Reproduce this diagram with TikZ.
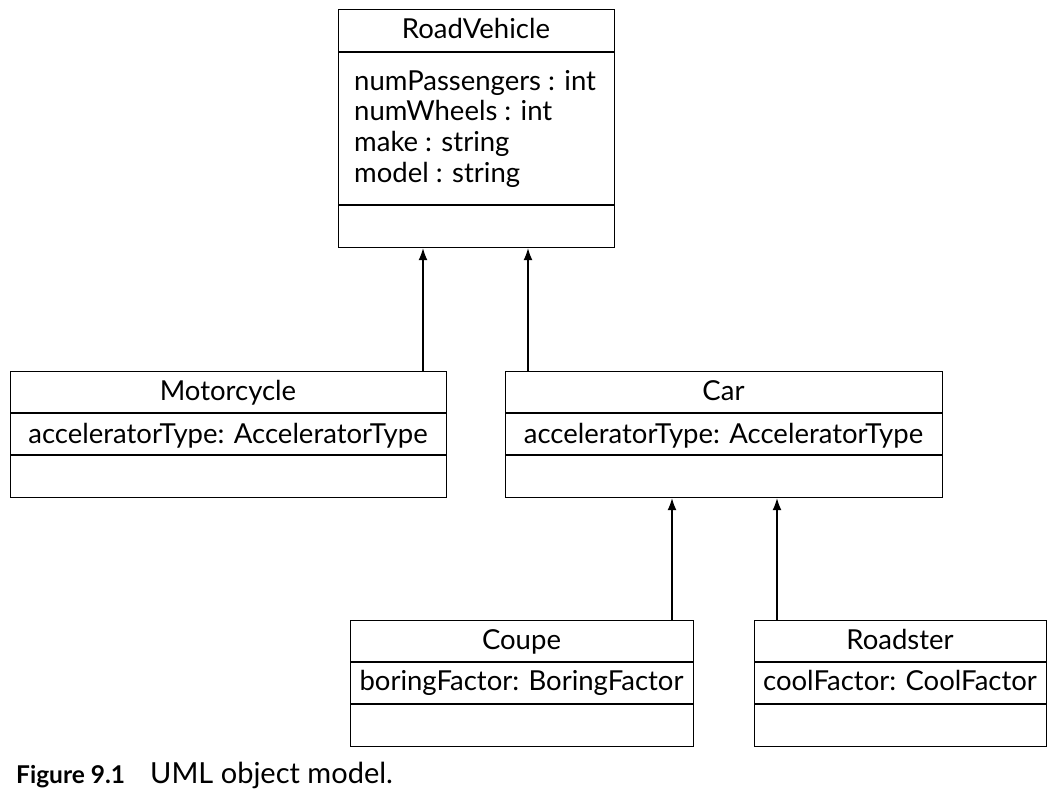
\documentclass[tikz,border=0pt]{standalone}
\usepackage{fontspec}
\setmainfont{Lato}
\usetikzlibrary{arrows.meta}
\begin{document}
\begin{tikzpicture}[x=1pt,y=-1pt,
  classbox/.style={draw, line width=1.2pt, rectangle, inner sep=0pt, anchor=north west},
  divider/.style={line width=1.2pt},
  lbl/.style={font=\fontsize{27.5}{31}\selectfont, inner sep=0pt},
  inherit/.style={line width=1.2pt, -{Latex[length=12pt,width=9pt]}}]
\useasboundingbox (0,0) rectangle (1054,795);

% RoadVehicle
\node[classbox, minimum width=276pt, minimum height=238pt] (rv) at (338,9) {};
\draw[divider] (338,52) -- (614,52);
\draw[divider] (338,205) -- (614,205);
\node[lbl, anchor=base] (rvname) at (476,38) {RoadVehicle};
\node[lbl, anchor=base west] (rva1) at (354,90) {numPassengers : int};
\node[lbl, anchor=base west] (rva2) at (354,120.5) {numWheels : int};
\node[lbl, anchor=base west] (rva3) at (354,151.5) {make : string};
\node[lbl, anchor=base west] (rva4) at (354,182) {model : string};

% Motorcycle
\node[classbox, minimum width=436pt, minimum height=126pt] (mc) at (10,371) {};
\draw[divider] (10,413) -- (446,413);
\draw[divider] (10,455) -- (446,455);
\node[lbl, anchor=base] (mcname) at (228,400) {Motorcycle};
\node[lbl, anchor=base] (mca1) at (228,443) {acceleratorType: AcceleratorType};

% Car
\node[classbox, minimum width=437pt, minimum height=126pt] (car) at (505,371) {};
\draw[divider] (505,413) -- (942,413);
\draw[divider] (505,455) -- (942,455);
\node[lbl, anchor=base] (carname) at (723.5,400) {Car};
\node[lbl, anchor=base] (cara1) at (723.5,443) {acceleratorType: AcceleratorType};

% Coupe
\node[classbox, minimum width=343pt, minimum height=126pt] (cp) at (350,620) {};
\draw[divider] (350,662) -- (693,662);
\draw[divider] (350,704) -- (693,704);
\node[lbl, anchor=base] (cpname) at (521.5,649) {Coupe};
\node[lbl, anchor=base] (cpa1) at (521.5,690) {boringFactor: BoringFactor};

% Roadster
\node[classbox, minimum width=292pt, minimum height=126pt] (rs) at (754,620) {};
\draw[divider] (754,662) -- (1046,662);
\draw[divider] (754,704) -- (1046,704);
\node[lbl, anchor=base] (rsname) at (900,649) {Roadster};
\node[lbl, anchor=base] (rsa1) at (900,690) {coolFactor: CoolFactor};

% inheritance connectors
\draw[inherit] (mc.north -| 423,0) -- (rv.south -| 423,0);
\draw[inherit] (car.north -| 528,0) -- (rv.south -| 528,0);
\draw[inherit] (cp.north -| 672,0) -- (car.south -| 672,0);
\draw[inherit] (rs.north -| 777,0) -- (car.south -| 777,0);

% caption
\node[lbl, anchor=base west, font=\fontsize{24.5}{29}\selectfont\bfseries] (figlbl) at (16,783) {Figure 9.1};
\node[lbl, anchor=base west, font=\fontsize{29}{33}\selectfont] (figcap) at (150,783) {UML object model.};
\end{tikzpicture}
\end{document}
